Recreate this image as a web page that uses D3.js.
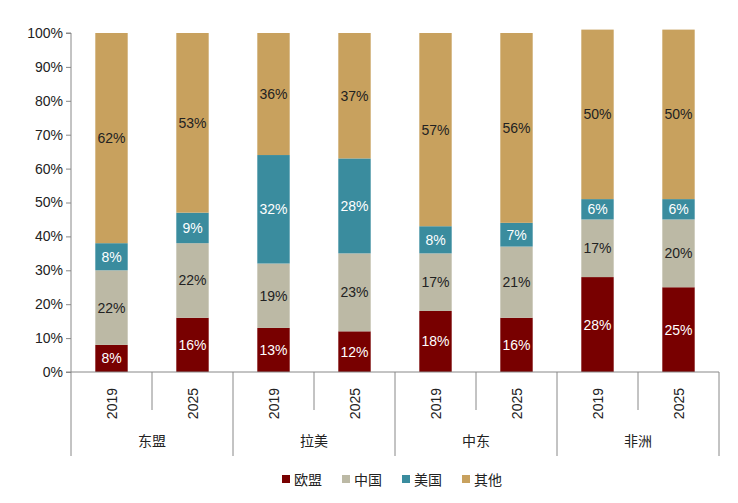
<!DOCTYPE html><html><head><meta charset="utf-8"><script src="https://cdn.jsdelivr.net/npm/d3@7"></script>
<style>body{margin:0;background:#fff}text{font-family:"Liberation Sans","Noto Sans CJK SC",sans-serif}</style></head><body><svg width="738" height="503"></svg>
<script>
const groups=["东盟","拉美","中东","非洲"];
const years=["2019","2025"];
const series=["欧盟","中国","美国","其他"];
const eu=[8,16,13,12,18,16,28,25];
const cn=[22,22,19,23,17,21,17,20];
const us=[8,9,32,28,8,7,6,6];
const other=[62,53,36,37,57,56,50,50];
const yTicks=[0,10,20,30,40,50,60,70,80,90,100];
const colors=["#780000","#BCB9A5","#3A8C9E","#C8A15E"];
const textColors=["#fff","#222","#fff","#222"];
const vals=[eu,cn,us,other];
const svg=d3.select("svg");
const L=71,R=719,T=33,B=372;
const cats=d3.range(8);
const x=d3.scaleBand().domain(cats).range([L,R]).paddingInner(0.6).paddingOuter(0.3);
const y=d3.scaleLinear().domain([0,100]).range([B,T]);
cats.forEach(i=>{let acc=0;vals.forEach((s,k)=>{const v=s[i];
 svg.append("rect").attr("x",x(i)).attr("width",x.bandwidth()).attr("y",y(acc+v)).attr("height",y(acc)-y(acc+v)).attr("fill",colors[k]);
 svg.append("text").attr("x",x(i)+x.bandwidth()/2).attr("y",y(acc+v/2)+5).attr("text-anchor","middle").attr("font-size",14).attr("fill",textColors[k]).text(v+"%");
 acc+=v;});});
const ya=svg.append("g").attr("transform",`translate(${L},0)`).call(d3.axisLeft(y).tickValues(yTicks).tickFormat(d=>d+"%").tickSize(5));
ya.selectAll("text").attr("font-size",14).attr("fill","#222").attr("font-family","Liberation Sans");
ya.selectAll("line,path").attr("stroke","#888");
ya.select("path").attr("d",`M-5,${B}H0V${T}H-5`);
const step=(R-L)/8;
svg.append("line").attr("x1",L).attr("x2",R).attr("y1",B).attr("y2",B).attr("stroke","#888");
for(let i=0;i<=8;i++){const xx=L+i*step;svg.append("line").attr("x1",xx).attr("x2",xx).attr("y1",B).attr("y2",i%2==0?456:410).attr("stroke","#888");}
cats.forEach(i=>{const cx=L+(i+0.5)*step;svg.append("text").attr("transform",`translate(${cx+5},${388}) rotate(-90)`).attr("text-anchor","end").attr("font-size",14).attr("fill","#222").text(years[i%2]);});
groups.forEach((g,j)=>svg.append("text").attr("x",L+(j+0.5)*2*step).attr("y",446).attr("text-anchor","middle").attr("font-size",14).attr("fill","#222").text(g));
const lx=[282,342,402,462];
series.forEach((s,k)=>{svg.append("rect").attr("x",lx[k]).attr("y",475).attr("width",8).attr("height",8).attr("fill",colors[k]);
 svg.append("text").attr("x",lx[k]+12).attr("y",485).attr("font-size",14).attr("fill","#222").text(s);});
</script></body></html>
